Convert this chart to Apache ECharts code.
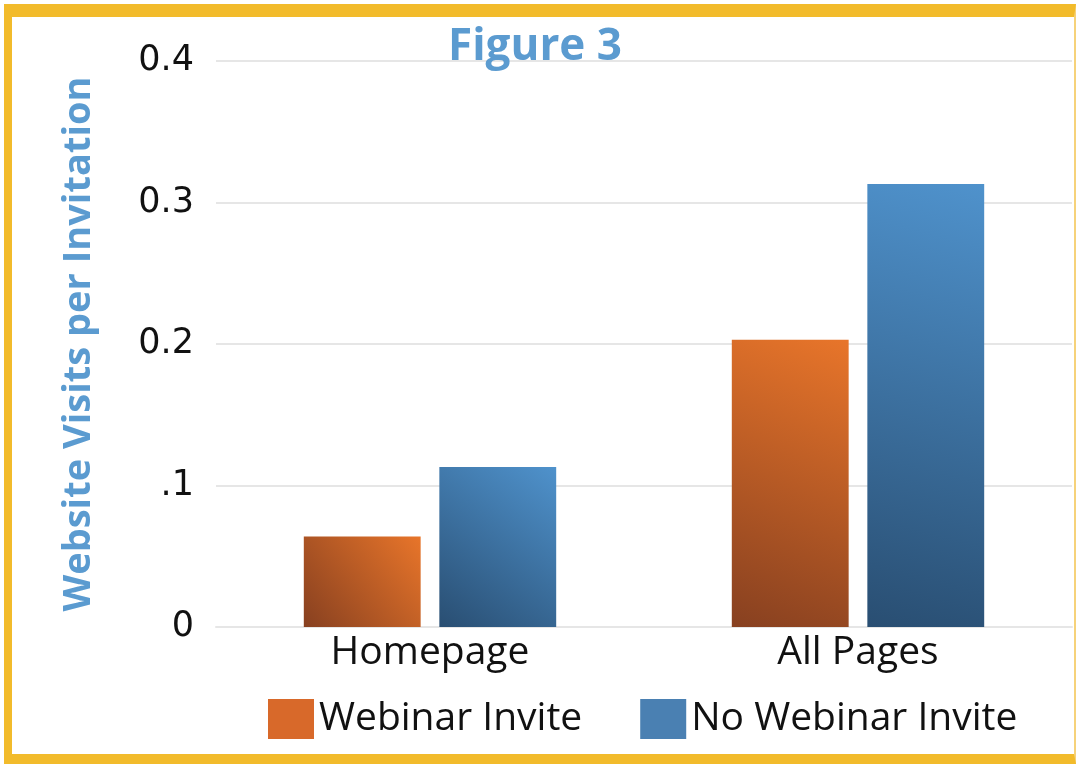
<!DOCTYPE html>
<html>
<head>
    <meta charset="utf-8" />
    <title>Figure 3</title>
    <script src="https://cdn.jsdelivr.net/npm/echarts@6/dist/echarts.min.js"></script>
    <style>
        html, body { margin: 0; padding: 0; background: #fff; }
        #frame {
            position: absolute; left: 4px; top: 4px; width: 1072px; height: 760px;
            box-sizing: border-box;
            border-top: 13px solid #F2BB2B; border-left: 8px solid #F2BB2B;
            border-bottom: 10px solid #F2BB2B; border-right: 2px solid #F6D27A;
        }
        #content { position: absolute; left: 0; top: 0; width: 1076px; height: 764px; }
    </style>
    <script type="text/javascript">
        var categories = ["Homepage", "All Pages"];
        var webinarInvite = [0.064, 0.203];
        var noWebinarInvite = [0.113, 0.313];
        var tickLabels = { "0": "0", "0.1": ".1", "0.2": "0.2", "0.3": "0.3", "0.4": "0.4" };

        function grad(top, bottom) {
            return new echarts.graphic.LinearGradient(1, 0, 0, 1, [
                { offset: 0, color: top },
                { offset: 1, color: bottom }
            ]);
        }

        window.onload = function () {
            var myChart = echarts.init(document.getElementById("content"));
            myChart.setOption({
                animation: false,
                title: {
                    text: "Figure 3",
                    left: 530,
                    textAlign: "center",
                    top: 20,
                    textStyle: { fontFamily: "Open Sans", fontSize: 44, fontWeight: "bold", color: "#5B9BD0" }
                },
                grid: { left: 216, right: 4, top: 61, bottom: 137 },
                legend: {
                    bottom: 20,
                    left: 263,
                    itemWidth: 46,
                    itemHeight: 40,
                    itemGap: 58,
                    icon: "rect",
                    textStyle: { fontFamily: "Open Sans", fontSize: 39, color: "#111" },
                    data: [
                        { name: "Webinar Invite", itemStyle: { color: "#D8692A" } },
                        { name: "No Webinar Invite", itemStyle: { color: "#4A80B2" } }
                    ]
                },
                xAxis: {
                    type: "category",
                    data: categories,
                    axisLine: { lineStyle: { color: "#E6E6E6", width: 2 } },
                    axisTick: { show: false },
                    axisLabel: { fontFamily: "Open Sans", fontSize: 39, color: "#111", margin: 6 }
                },
                yAxis: {
                    type: "value",
                    min: 0,
                    max: 0.4,
                    interval: 0.1,
                    name: "Website Visits per Invitation",
                    nameLocation: "middle",
                    nameGap: 118,
                    nameTextStyle: { fontFamily: "Open Sans", fontSize: 38, fontWeight: "bold", color: "#5B9BD0" },
                    axisLine: { show: false },
                    axisTick: { show: false },
                    splitLine: { lineStyle: { color: "#E6E6E6", width: 2 } },
                    axisLabel: {
                        fontFamily: "DejaVu Sans",
                        fontSize: 35,
                        color: "#111",
                        margin: 22,
                        formatter: function (v) {
                            var k = String(Math.round(v * 10) / 10);
                            return tickLabels[k] !== undefined ? tickLabels[k] : k;
                        }
                    }
                },
                series: [{
                    name: "Webinar Invite",
                    type: "bar",
                    data: webinarInvite,
                    barWidth: "27.3%",
                    barGap: "16%",
                    itemStyle: { color: grad("#E8752A", "#874020") }
                }, {
                    name: "No Webinar Invite",
                    type: "bar",
                    data: noWebinarInvite,
                    barWidth: "27.3%",
                    itemStyle: { color: grad("#4F92CC", "#294E72") }
                }]
            });
        };
    </script>
</head>
<body>
    <div id="frame"></div>
    <div id="content"></div>
</body>
</html>
